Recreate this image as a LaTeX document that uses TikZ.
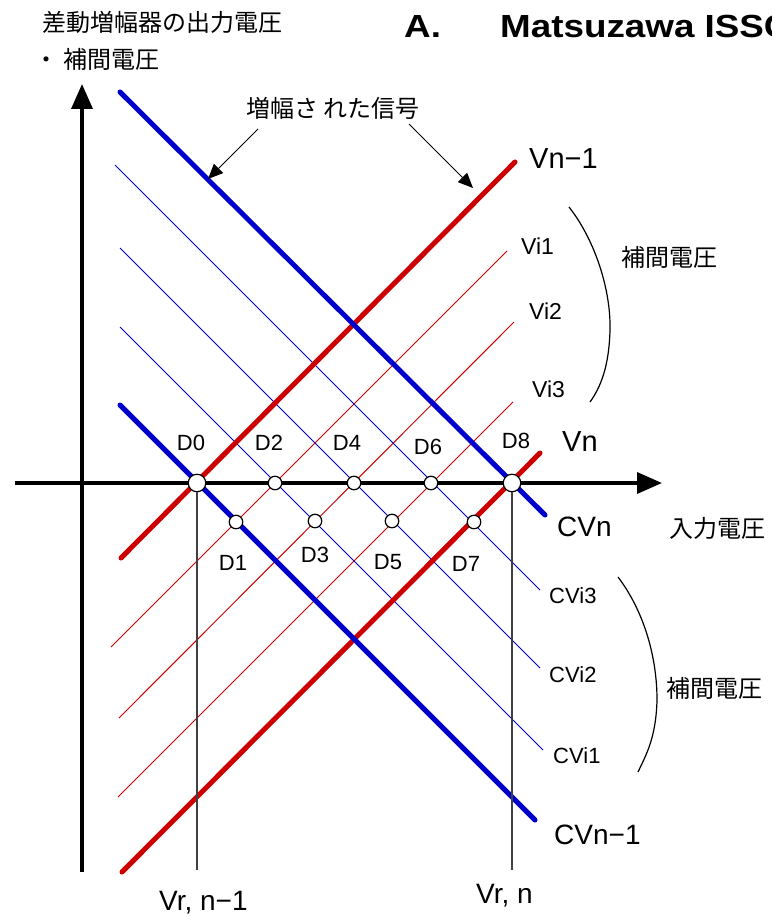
\documentclass[tikz,border=0pt]{standalone}
\usepackage{fontspec}
\setmainfont{Liberation Sans}
\newfontfamily\jpfont{Noto Sans CJK JP}
\usetikzlibrary{arrows.meta}
\newcommand\setfs[1]{\fontsize{#1}{#1}\selectfont}
\definecolor{sigred}{RGB}{204,0,0}
\definecolor{sigblue}{RGB}{0,0,204}

\begin{document}
\begin{tikzpicture}[x=1pt,y=-1pt,
  thickred/.style={sigred,line width=5pt,line cap=round},
  thinred/.style={sigred,line width=1pt},
  thickblue/.style={sigblue,line width=5pt,line cap=round},
  thinblue/.style={sigblue,line width=1pt},
  axis/.style={line width=3.5pt,-{Triangle[length=25pt,width=21pt]}},
  note/.style={line width=1pt,-{Triangle[length=15pt,width=13pt]}},
  refline/.style={black!75,line width=1.2pt},
  bigdot/.style={circle,draw,fill=white,line width=1.2pt,minimum size=17.5pt,inner sep=0pt},
  smalldot/.style={circle,draw,fill=white,line width=1.2pt,minimum size=13.5pt,inner sep=0pt},
  lbl/.style={inner sep=0pt,anchor=west},
  dlbl/.style={inner sep=0pt,font=\setfs{22}},
  jp/.style={inner sep=0pt,anchor=west,font=\jpfont\setfs{24}}]
  \useasboundingbox (0,0) rectangle (771,917);
  \clip (0,0) rectangle (771,917);
  % interpolated lines
  \draw[thinred] (111,647) -- (507,251);
  \draw[thinred] (119,718) -- (514,322);
  \draw[thinred] (118,797) -- (513,402);
  \draw[thinblue] (115,165) -- (540,590);
  \draw[thinblue] (120,248) -- (540,668);
  \draw[thinblue] (120,327) -- (543,750);
  % amplified signals
  \draw[thickred] (121,558) -- (515,162);
  \draw[thickred] (122,872) -- (540,453);
  \draw[thickblue] (120,92) -- (545,515);
  \draw[thickblue] (120,405) -- (535,820);
  % axes
  \coordinate (xs) at (15,483);
  \coordinate (xe) at (662,483);
  \coordinate (ys) at (82,872);
  \coordinate (ye) at (82,84);
  \draw[axis] (xs) -- (xe);
  \draw[axis] (ys) -- (ye);
  % comparison points
  \node[bigdot] (D0) at (197,483) {};
  \node[bigdot] (D8) at (512,483) {};
  \node[smalldot] (D2) at (275,483) {};
  \node[smalldot] (D4) at (354,483) {};
  \node[smalldot] (D6) at (431,483) {};
  \node[smalldot] (D1) at (236,522) {};
  \node[smalldot] (D3) at (315,521) {};
  \node[smalldot] (D5) at (392,521) {};
  \node[smalldot] (D7) at (474,522) {};
  \coordinate (vrA) at (197,870);
  \coordinate (vrB) at (512,870);
  \draw[refline] (D0) -- (vrA);
  \draw[refline] (D8) -- (vrB);
  \node[dlbl] (tD0) at (191,443) {D0};
  \node[dlbl] (tD2) at (269,443) {D2};
  \node[dlbl] (tD4) at (347,443) {D4};
  \node[dlbl] (tD6) at (428,447) {D6};
  \node[dlbl] (tD8) at (516,441) {D8};
  \node[dlbl] (tD1) at (233,563) {D1};
  \node[dlbl] (tD3) at (315,555) {D3};
  \node[dlbl] (tD5) at (388,562) {D5};
  \node[dlbl] (tD7) at (466,564) {D7};
  % line labels
  \node[lbl,font=\setfs{29}] (lVnm) at (529,159) {Vn−1};
  \node[lbl,font=\setfs{23}] (lVi1) at (521,246) {Vi1};
  \node[lbl,font=\setfs{23}] (lVi2) at (529,311) {Vi2};
  \node[lbl,font=\setfs{23}] (lVi3) at (532,389) {Vi3};
  \node[lbl,font=\setfs{29}] (lVn) at (562,442) {Vn};
  \node[lbl,font=\setfs{28}] (lCVn) at (557,527) {CVn};
  \node[lbl,font=\setfs{22}] (lCVi3) at (549,596) {CVi3};
  \node[lbl,font=\setfs{22}] (lCVi2) at (549,675) {CVi2};
  \node[lbl,font=\setfs{22}] (lCVi1) at (553,756) {CVi1};
  \node[lbl,font=\setfs{28}] (lCVnm) at (554,835) {CVn−1};
  \node[lbl,font=\setfs{28}] (lVrA) at (159,903) {Vr, n−1};
  \node[lbl,font=\setfs{28}] (lVrB) at (476,896) {Vr, n};
  % brackets for the interpolation voltages
  \draw[line width=1.2pt] (569,207) .. controls (595,240) and (611,290) .. (610,330)
    .. controls (609,368) and (600,388) .. (590,402);
  \draw[line width=1.2pt] (618,577) .. controls (643,610) and (657,655) .. (657,700)
    .. controls (656,738) and (646,755) .. (638,772);
  \node[jp] (hokan1) at (621,257) {補間電圧};
  \node[jp] (hokan2) at (666,688) {補間電圧};
  \node[jp] (xlbl) at (669,528) {入力電圧};
  \node[jp] (ylbl1) at (42,22) {差動増幅器の出力電圧};
  \node[jp] (ylbl2) at (34,59) {・ 補間電圧};
  % amplified signal note
  \node[jp] (sig) at (246,108) {増幅さ れた信号};
  \coordinate (sigA) at (258,129);
  \coordinate (sigB) at (409,124);
  \coordinate (tipA) at (208,179);
  \coordinate (tipB) at (473,188);
  \draw[note] (sigA) -- (tipA);
  \draw[note] (sigB) -- (tipB);
  % title
  \node[lbl,font=\bfseries\setfs{32}] (ttlA) at (404,26) {\scalebox{1.15}[1]{A.}};
  \node[lbl,font=\bfseries\setfs{32}] (ttl) at (500,26) {\scalebox{1.15}[1]{Matsuzawa ISSC}};
\end{tikzpicture}
\end{document}
